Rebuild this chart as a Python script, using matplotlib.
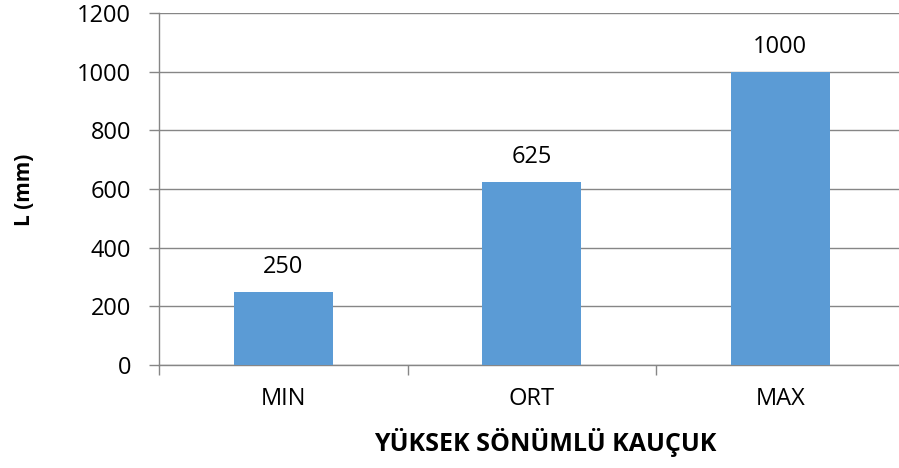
import matplotlib
matplotlib.use("Agg")
import matplotlib.pyplot as plt
import numpy as np

categories = ["MIN", "ORT", "MAX"]
values = [250, 625, 1000]
yticks = [0, 200, 400, 600, 800, 1000, 1200]
xlabel = "YÜKSEK SÖNÜMLÜ KAUÇUK"
ylabel = "L (mm)"

plt.rcParams['font.family'] = ['Open Sans', 'DejaVu Sans']

W, H = 899, 468
fig = plt.figure(figsize=(W/100, H/100), dpi=100)
left, right, bottom, top = 159, 904.5, 365, 13
ax = fig.add_axes([left/W, (H-bottom)/H, (right-left)/W, (bottom-top)/H])

x = np.arange(len(categories))
ax.bar(x, values, width=0.4, color="#5B9BD5", zorder=3)
for xi, v in zip(x, values):
    ax.annotate(str(v), (xi, v), xytext=(0, 9), textcoords="offset points",
                ha="center", va="bottom", fontsize=17, color="#000000")

ax.set_xlim(-0.5, len(categories) - 0.5)
ax.set_ylim(0, 1200)
ax.set_yticks(yticks)
ax.set_yticklabels([str(t) for t in yticks], fontsize=17)
ax.yaxis.grid(True, color="#868686", linewidth=1, zorder=0)
ax.set_xticks(x)
ax.set_xticklabels(categories, fontsize=17)
ax.set_xticks(np.arange(len(categories) + 1) - 0.5, minor=True)
ax.tick_params(axis="x", which="major", length=0, pad=16)
ax.tick_params(axis="x", which="minor", length=7, color="#868686", width=1)
ax.tick_params(axis="y", length=7, color="#868686", width=1, pad=13)
for s in ["top", "right"]:
    ax.spines[s].set_visible(False)
for s in ["left", "bottom"]:
    ax.spines[s].set_color("#868686")
    ax.spines[s].set_linewidth(1)

ax.set_xlabel(xlabel, fontsize=18, fontweight="bold")
ax.xaxis.set_label_coords((545 - left) / (right - left), -(442 - bottom) / (bottom - top))
ax.xaxis.label.set_va("center")
fig.text(25/W, (H-190)/H, ylabel, rotation=90, fontsize=15, fontweight="bold",
         ha="center", va="center")

fig.savefig("out.png", dpi=100)
